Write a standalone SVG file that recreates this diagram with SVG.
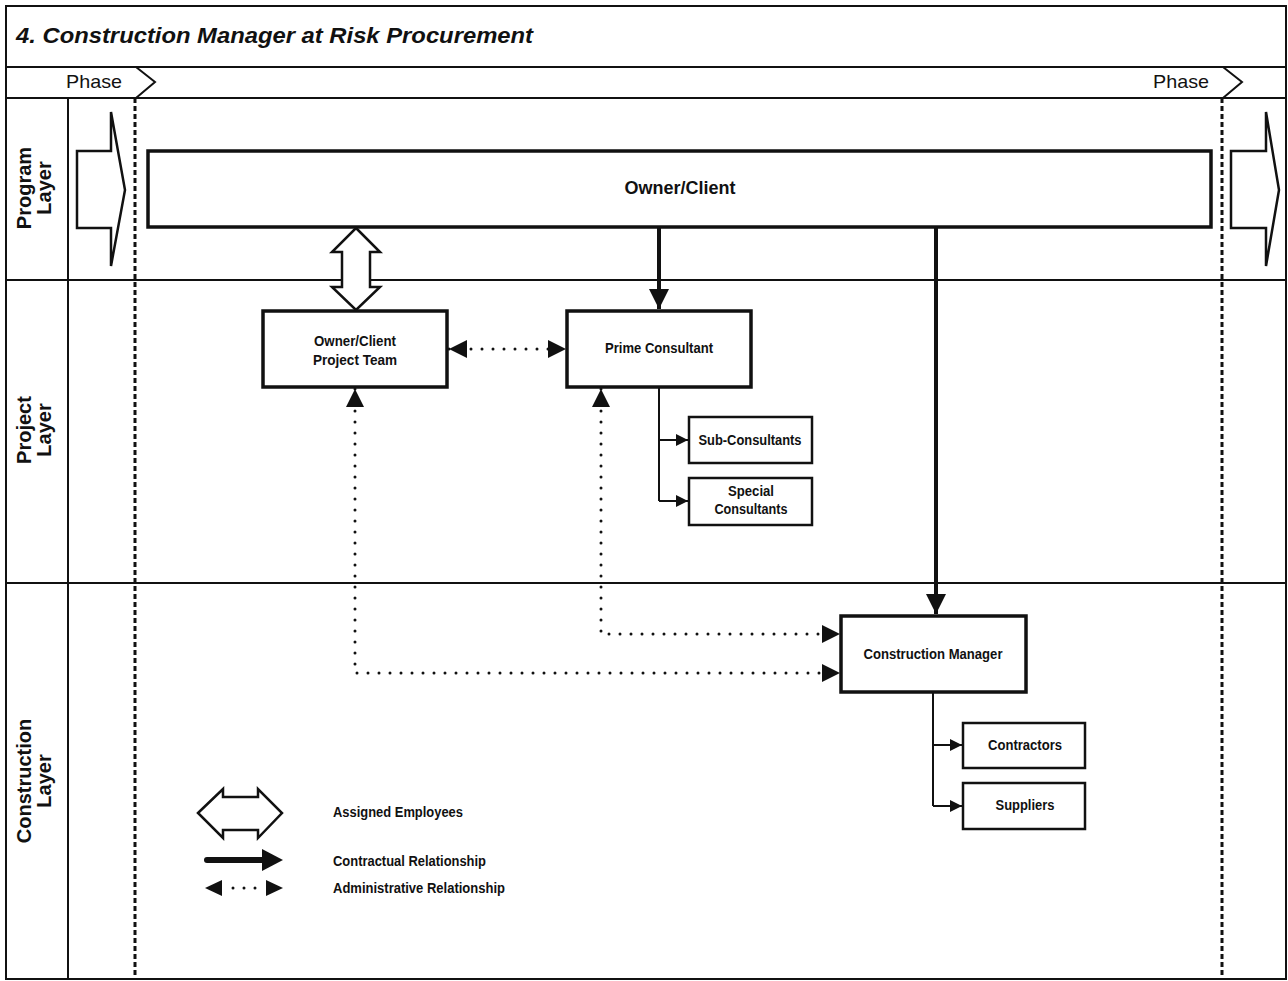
<svg xmlns="http://www.w3.org/2000/svg" width="1288" height="981" viewBox="0 0 1288 981">
<style>
.frame{fill:none;stroke:#111;stroke-width:2}
.box{fill:#fff;stroke:#111;stroke-width:3.5}
.sbox{fill:#fff;stroke:#111;stroke-width:2.5}
.lbl{font-family:"Liberation Sans",sans-serif;font-weight:bold;font-size:14px;fill:#111;text-anchor:middle}
.big{font-size:19px}
.leg{font-family:"Liberation Sans",sans-serif;font-weight:bold;font-size:14px;fill:#111}
.layer{font-family:"Liberation Sans",sans-serif;font-weight:bold;font-size:20px;fill:#111;text-anchor:middle}
.phase{font-family:"Liberation Sans",sans-serif;font-size:19px;fill:#111}
.dash{fill:none;stroke:#111;stroke-width:3;stroke-dasharray:5 3}
.dot{fill:none;stroke:#111;stroke-width:3;stroke-dasharray:0 11;stroke-linecap:round}
.thick{fill:none;stroke:#111;stroke-width:4}
.thin{fill:none;stroke:#111;stroke-width:2}
.hollow{fill:#fff;stroke:#111;stroke-width:2.5;stroke-linejoin:miter}
</style>
<defs>
<marker id="tri" viewBox="0 0 10 10" refX="10" refY="5" markerWidth="5" markerHeight="5" markerUnits="strokeWidth" orient="auto-start-reverse"><path d="M0,0 L10,5 L0,10 Z" fill="#111"/></marker>
<marker id="triS" viewBox="0 0 10 10" refX="10" refY="5" markerWidth="6" markerHeight="6" markerUnits="strokeWidth" orient="auto-start-reverse"><path d="M0,0 L10,5 L0,10 Z" fill="#111"/></marker>
<marker id="triD" viewBox="0 0 10 10" refX="10" refY="5" markerWidth="6" markerHeight="6" markerUnits="strokeWidth" orient="auto-start-reverse"><path d="M0,0 L10,5 L0,10 Z" fill="#111"/></marker>
</defs>
<rect width="1288" height="981" fill="#fff"/>
<g id="frame">
<rect class="frame" x="6" y="6" width="1280" height="973"/>
<line class="frame" x1="6" y1="67" x2="1286" y2="67"/>
<line class="frame" x1="6" y1="98" x2="1286" y2="98"/>
<line class="frame" x1="6" y1="280" x2="1286" y2="280"/>
<line class="frame" x1="6" y1="583" x2="1286" y2="583"/>
<line class="frame" x1="68" y1="98" x2="68" y2="979"/>
<text x="16" y="43" font-family="Liberation Sans,sans-serif" font-weight="bold" font-style="italic" font-size="22.5" fill="#111" textLength="517" lengthAdjust="spacingAndGlyphs">4. Construction Manager at Risk Procurement</text>
<text class="phase" x="66" y="88" textLength="56" lengthAdjust="spacingAndGlyphs">Phase</text>
<text class="phase" x="1153" y="88" textLength="56" lengthAdjust="spacingAndGlyphs">Phase</text>
<path class="thin" d="M136,67 L155,82 L136,98" stroke-width="2.5"/>
<path class="thin" d="M1223,67 L1242,82 L1223,98" stroke-width="2.5"/>
<line class="dash" x1="135" y1="98" x2="135" y2="979"/>
<line class="dash" x1="1222" y1="98" x2="1222" y2="979"/>
<text class="layer" transform="translate(31,188) rotate(-90)">Program</text>
<text class="layer" transform="translate(51,188) rotate(-90)">Layer</text>
<text class="layer" transform="translate(31,430) rotate(-90)">Project</text>
<text class="layer" transform="translate(51,430) rotate(-90)">Layer</text>
<text class="layer" transform="translate(31,781) rotate(-90)">Construction</text>
<text class="layer" transform="translate(51,781) rotate(-90)">Layer</text>
<path class="hollow" stroke-width="3" d="M77,151 H111 V112 L125,190 L111,266 V228 H77 Z"/>
<path class="hollow" stroke-width="3" d="M1231,151 H1266 V112 L1279,190 L1266,266 V228 H1231 Z"/>
</g>
<g id="owner-client">
<rect class="box" x="148" y="151" width="1063" height="76"/>
<text class="lbl big" x="680" y="194" textLength="111" lengthAdjust="spacingAndGlyphs">Owner/Client</text>
</g>
<g id="project-team">
<rect class="box" x="263" y="311" width="184" height="76"/>
<text class="lbl" x="355" y="346" textLength="82" lengthAdjust="spacingAndGlyphs">Owner/Client</text>
<text class="lbl" x="355" y="365" textLength="84" lengthAdjust="spacingAndGlyphs">Project Team</text>
</g>
<g id="prime-consultant">
<rect class="box" x="567" y="311" width="184" height="76"/>
<text class="lbl" x="659" y="353" textLength="108" lengthAdjust="spacingAndGlyphs">Prime Consultant</text>
</g>
<g id="sub-consultants">
<rect class="sbox" x="689" y="417" width="123" height="46"/>
<text class="lbl" x="750" y="445" textLength="103" lengthAdjust="spacingAndGlyphs">Sub-Consultants</text>
</g>
<g id="special-consultants">
<rect class="sbox" x="689" y="478" width="123" height="47"/>
<text class="lbl" x="751" y="496" textLength="46" lengthAdjust="spacingAndGlyphs">Special</text>
<text class="lbl" x="751" y="514" textLength="73" lengthAdjust="spacingAndGlyphs">Consultants</text>
</g>
<g id="construction-manager">
<rect class="box" x="841" y="616" width="185" height="76"/>
<text class="lbl" x="933" y="659" textLength="139" lengthAdjust="spacingAndGlyphs">Construction Manager</text>
</g>
<g id="contractors">
<rect class="sbox" x="963" y="723" width="122" height="45"/>
<text class="lbl" x="1025" y="750" textLength="74" lengthAdjust="spacingAndGlyphs">Contractors</text>
</g>
<g id="suppliers">
<rect class="sbox" x="963" y="783" width="122" height="46"/>
<text class="lbl" x="1025" y="810" textLength="59" lengthAdjust="spacingAndGlyphs">Suppliers</text>
</g>
<g id="connectors">
<path class="hollow" d="M356,228 L380,252 H370 V287 H380 L356,310 L332,287 H342 V252 H332 Z"/>
<line class="thick" x1="659" y1="227" x2="659" y2="309" marker-end="url(#tri)"/>
<line class="thick" x1="936" y1="227" x2="936" y2="614" marker-end="url(#tri)"/>
<line class="dot" x1="449" y1="349" x2="566" y2="349" marker-start="url(#triD)" marker-end="url(#triD)"/>
<path class="dot" d="M355,389 V673 H840" marker-start="url(#triD)" marker-end="url(#triD)"/>
<path class="dot" d="M601,389 V634 H840" marker-start="url(#triD)" marker-end="url(#triD)"/>
<path class="thin" d="M659,387 V501"/>
<line class="thin" x1="659" y1="440" x2="688" y2="440" marker-end="url(#triS)"/>
<line class="thin" x1="659" y1="501" x2="688" y2="501" marker-end="url(#triS)"/>
<path class="thin" d="M933,692 V806"/>
<line class="thin" x1="933" y1="745" x2="962" y2="745" marker-end="url(#triS)"/>
<line class="thin" x1="933" y1="806" x2="962" y2="806" marker-end="url(#triS)"/>
</g>
<g id="legend">
<path class="hollow" d="M198,813 L223,789 V797 H258 V789 L282,813 L258,838 V830 H223 V838 Z"/>
<line x1="207" y1="860" x2="266" y2="860" stroke="#111" stroke-width="6" stroke-linecap="round"/>
<path d="M262,849 L283,860 L262,871 Z" fill="#111"/>
<path d="M205,888 L222,880 V896 Z" fill="#111"/>
<path d="M283,888 L266,880 V896 Z" fill="#111"/>
<line class="dot" x1="233" y1="888" x2="256" y2="888"/>
<text class="leg" x="333" y="817" textLength="130" lengthAdjust="spacingAndGlyphs">Assigned Employees</text>
<text class="leg" x="333" y="866" textLength="153" lengthAdjust="spacingAndGlyphs">Contractual Relationship</text>
<text class="leg" x="333" y="893" textLength="172" lengthAdjust="spacingAndGlyphs">Administrative Relationship</text>
</g>
</svg>
